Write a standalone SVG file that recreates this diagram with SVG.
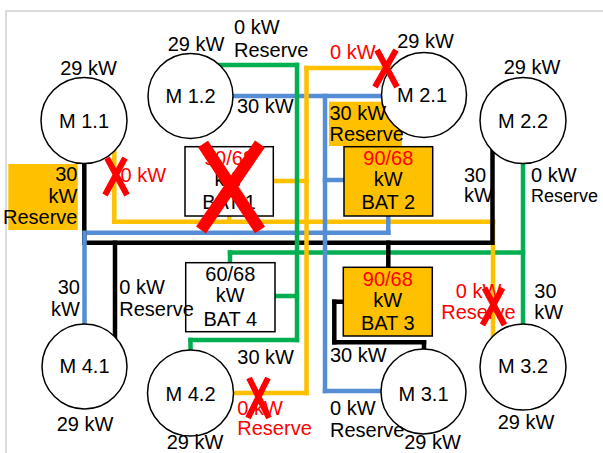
<svg xmlns="http://www.w3.org/2000/svg" width="603" height="453" viewBox="0 0 603 453">
<style>
.ln{fill:none;stroke-width:4.5;stroke-linecap:square;stroke-linejoin:miter}
.k{stroke:#000000}.b{stroke:#558ED5}.y{stroke:#FFC000}.g{stroke:#00B050}
.node circle{fill:#FFFFFF;stroke:#000000;stroke-width:1.5}
.box{stroke:#000000;stroke-width:1.5}
.t{font-family:"Liberation Sans",Arial,sans-serif;font-size:20px;fill:#000000}
.r{fill:#FF0000}
.m{text-anchor:middle}
.e{text-anchor:end}
.x{stroke:#FF0000;stroke-width:6;fill:none}
.xb{stroke:#FF0000;stroke-width:12;fill:none}
</style>
<rect x="6" y="11" width="650" height="500" fill="#FFFFFF" stroke="#D0D0D0" stroke-width="1.5"/>

<!-- background highlight boxes -->
<rect x="8.3" y="164" width="69.4" height="66" fill="#FFC000"/>
<rect x="329" y="101.7" width="73" height="44.3" fill="#FFC000"/>

<g id="connectors">
  <!-- horizontal runs -->
  <path class="ln k" d="M84.3 242.7H492.5M334.3 301.7H343.3M334.3 342.3H424"/>
  <path class="ln b" d="M233 96H381.5M325 391H381M325 180H344M84.5 232.7H388.3"/>
  <path class="ln y" d="M114.3 221.7H493M306.5 68H391M233 393H306.5M273.3 181H306.5"/>
  <path class="ln g" d="M220 65H297M190.5 340H297M275 296H297M230 252.5H523"/>
  <!-- vertical runs -->
  <path class="ln y" d="M114.3 151V221.7M493 221.7V336M229.3 216V221.7M306.5 68V393"/>
  <path class="ln g" d="M297 65V340M190.5 340V350M523 164V324M230 252.5V263"/>
  <path class="ln k" d="M84.3 163V242.7M492.5 150V242.7M115 242.7V337M388.3 242.7V267.3M334.3 301.7V342.3M424 342.3V349"/>
  <path class="ln b" d="M325 96V391M388.3 216V232.7M84.5 232.7V324"/>
</g>

<g id="M11" class="node">
  <circle cx="84" cy="120.5" r="43"/>
  <text class="t m" x="84" y="127.5">M 1.1</text>
  <text class="t m" x="88.5" y="75">29 kW</text>
</g>
<g id="M12" class="node">
  <circle cx="190.5" cy="96" r="42.5"/>
  <text class="t m" x="190.5" y="103">M 1.2</text>
  <text class="t m" x="196" y="50.7">29 kW</text>
</g>
<g id="M21" class="node">
  <circle cx="424" cy="95" r="42.5"/>
  <text class="t m" x="422" y="102">M 2.1</text>
  <text class="t m" x="425.5" y="48">29 kW</text>
</g>
<g id="M22" class="node">
  <circle cx="523" cy="120.5" r="43"/>
  <text class="t m" x="523" y="127.5">M 2.2</text>
  <text class="t m" x="532" y="74">29 kW</text>
</g>
<g id="M41" class="node">
  <circle cx="84.5" cy="366.5" r="42.5"/>
  <text class="t m" x="84.5" y="373.3">M 4.1</text>
  <text class="t m" x="85" y="431">29 kW</text>
</g>
<g id="M42" class="node">
  <circle cx="190.5" cy="393" r="43"/>
  <text class="t m" x="190.5" y="400.5">M 4.2</text>
  <text class="t m" x="195" y="448.5">29 kW</text>
</g>
<g id="M31" class="node">
  <circle cx="423.5" cy="391.5" r="42.5"/>
  <text class="t m" x="423.5" y="401">M 3.1</text>
  <text class="t m" x="432.5" y="448.5">29 kW</text>
</g>
<g id="M32" class="node">
  <circle cx="523" cy="367" r="43"/>
  <text class="t m" x="523" y="373.3">M 3.2</text>
  <text class="t m" x="526" y="429">29 kW</text>
</g>

<g id="BAT1">
  <rect class="box" x="185" y="146.7" width="88.3" height="69.3" fill="#FFFFFF"/>
  <text class="t m r" x="229" y="165">90/68</text>
  <text class="t m" x="229" y="186">kW</text>
  <text class="t m" x="229" y="209">BAT 1</text>
</g>
<g id="BAT2">
  <rect class="box" x="344" y="146.7" width="88.7" height="69.3" fill="#FFC000"/>
  <text class="t m r" x="388.3" y="165">90/68</text>
  <text class="t m" x="388.3" y="186">kW</text>
  <text class="t m" x="388.3" y="209">BAT 2</text>
</g>
<g id="BAT3">
  <rect class="box" x="343.3" y="267.3" width="89" height="68.7" fill="#FFC000"/>
  <text class="t m r" x="387.8" y="285.7">90/68</text>
  <text class="t m" x="387.8" y="307">kW</text>
  <text class="t m" x="387.8" y="330">BAT 3</text>
</g>
<g id="BAT4">
  <rect class="box" x="185.7" y="262.7" width="89.3" height="69" fill="#FFFFFF"/>
  <text class="t m" x="230.3" y="280.7">60/68</text>
  <text class="t m" x="230.3" y="302">kW</text>
  <text class="t m" x="230.3" y="325.7">BAT 4</text>
</g>

<g id="labels">
  <text class="t" x="234" y="34.3">0 kW</text>
  <text class="t" x="234" y="57.3">Reserve</text>
  <text class="t" x="237" y="113">30 kW</text>
  <text class="t r" x="330" y="59">0 kW</text>
  <text class="t" x="329.5" y="120">30 kW</text>
  <text class="t" x="329.5" y="140.7">Reserve</text>
  <text class="t" x="464" y="181.7">30</text>
  <text class="t" x="464" y="201.7">kW</text>
  <text class="t" x="531" y="181.7">0 kW</text>
  <text class="t" x="531" y="201.7" style="font-size:18px">Reserve</text>
  <text class="t e" x="77.5" y="180.7">30</text>
  <text class="t e" x="77.5" y="203.3">kW</text>
  <text class="t e" x="77.5" y="224">Reserve</text>
  <text class="t r" x="120.6" y="181.5">0 kW</text>
  <text class="t e" x="80" y="294.3">30</text>
  <text class="t e" x="80" y="315.7">kW</text>
  <text class="t" x="119.3" y="294.3">0 kW</text>
  <text class="t" x="119.3" y="315.7">Reserve</text>
  <text class="t" x="237.3" y="363.5">30 kW</text>
  <text class="t r" x="237.3" y="415">0 kW</text>
  <text class="t r" x="237.3" y="435">Reserve</text>
  <text class="t" x="330" y="361.7">30 kW</text>
  <text class="t" x="330" y="415">0 kW</text>
  <text class="t" x="330" y="436.7">Reserve</text>
  <text class="t m r" x="478.5" y="297.7">0 kW</text>
  <text class="t m r" x="478.5" y="319">Reserve</text>
  <text class="t" x="534.3" y="297.7">30</text>
  <text class="t" x="534.3" y="319">kW</text>
</g>

<g id="marks">
  <path class="xb" d="M203 144L260 230M260 144L201 230"/>
  <path class="x" d="M107 158L127 195M125 158L105 195"/>
  <path class="x" d="M377 50L397 87M396 50L375 87"/>
  <path class="x" d="M249 378L269 418M268 378L248 418"/>
  <path class="x" d="M484.5 288L504.5 325M502.5 288L482.5 325"/>
</g>
</svg>
